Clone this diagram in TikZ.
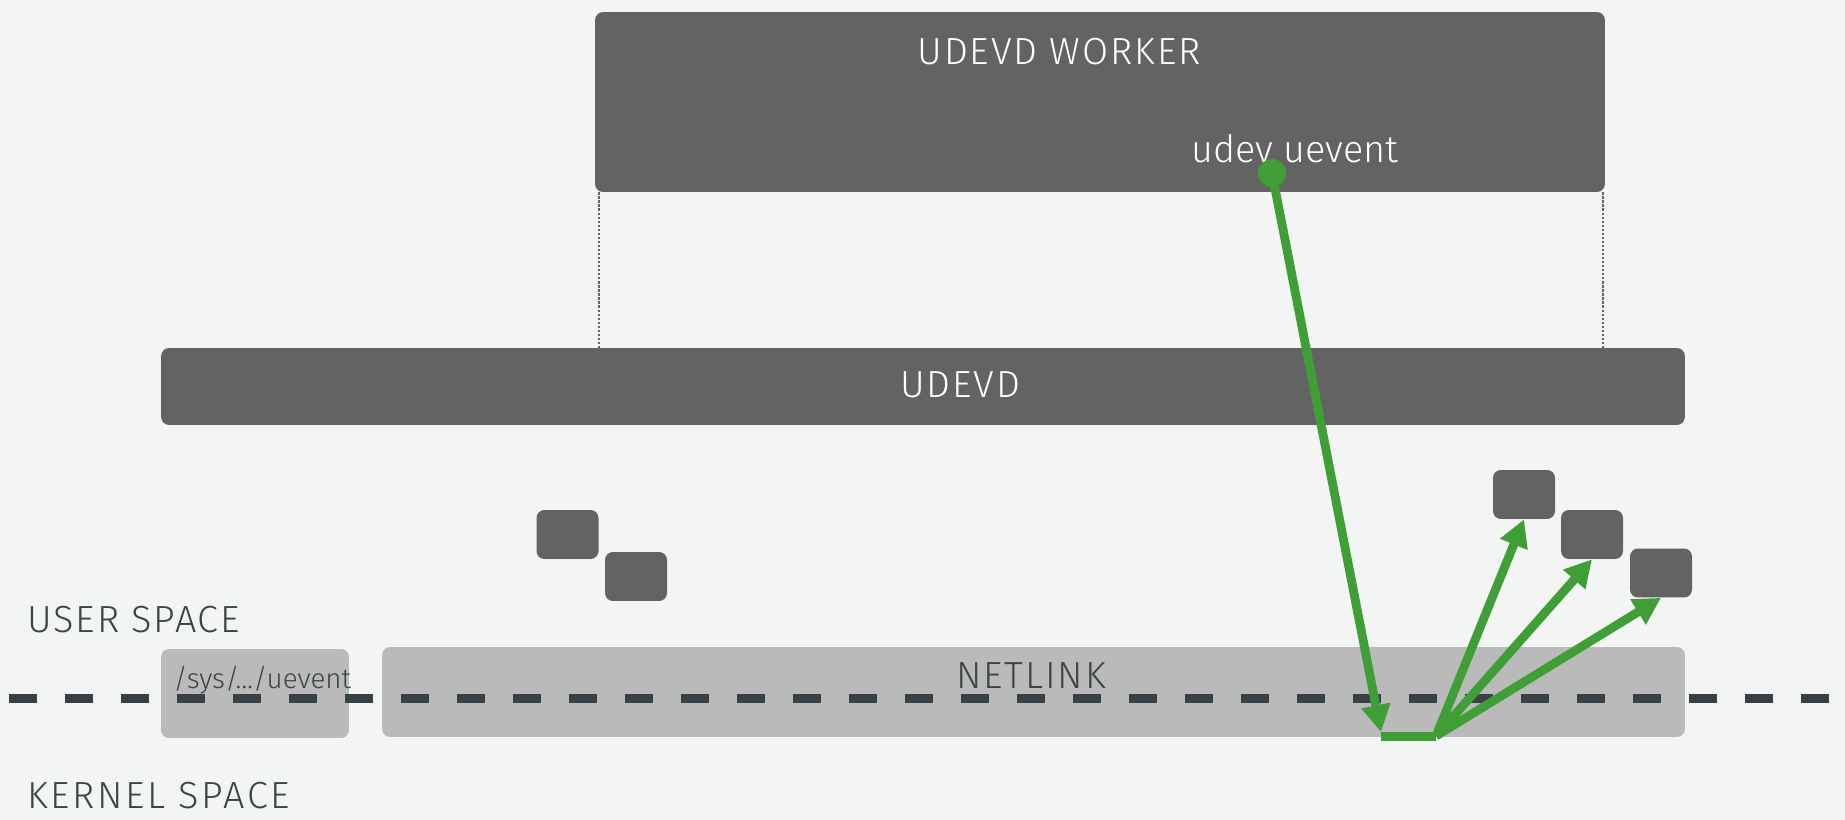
\documentclass[tikz,border=0pt]{standalone}
\usepackage{fontspec}
\setmainfont{Fira Sans Light}[LetterSpace=5]
\newfontfamily\plainfont{Fira Sans Light}
\usetikzlibrary{arrows.meta}
\usetikzlibrary{positioning}
\definecolor{bgcol}{HTML}{F3F4F4}
\definecolor{boxdark}{HTML}{636363}
\definecolor{boxlight}{HTML}{B9BAB9}
\definecolor{flowgreen}{HTML}{409E37}
\definecolor{ink}{HTML}{3B4446}
\definecolor{dashink}{HTML}{384145}
\tikzstyle{darkbox} = [rectangle, rounded corners=4.5pt, fill=boxdark, inner sep=0pt]
\tikzstyle{lightbox} = [rectangle, rounded corners=4.5pt, fill=boxlight, inner sep=0pt]
\tikzstyle{smallbox} = [darkbox, minimum width=1.24cm, minimum height=0.98cm]
\tikzstyle{boxtitle} = [text=white, font=\fontsize{21.5}{24}\selectfont, inner sep=0pt, anchor=base]
\tikzstyle{spacelabel} = [text=ink, font=\fontsize{21.5}{24}\selectfont, inner sep=0pt, anchor=base west]
\tikzstyle{flow} = [draw=flowgreen, line width=5pt, -{Triangle[length=0.54cm, width=0.56cm]}]
\tikzstyle{tie} = [draw=boxdark, line width=1.3pt, densely dotted]

\begin{document}
\begin{tikzpicture}[x=0.02cm, y=-0.02cm]

 \fill[bgcol] (0,0) rectangle (1845,820);
 \useasboundingbox (0,0) rectangle (1845,820);

 \node (worker) [darkbox, minimum width=20.2cm, minimum height=3.6cm] at (1100,102) {};
 \node (udevd) [darkbox, minimum width=30.48cm, minimum height=1.54cm] at (923,386.5) {};
 \node (netlink) [lightbox, minimum width=26.06cm, minimum height=1.8cm] at (1033.5,692) {};
 \node (sysfs) [lightbox, minimum width=3.76cm, minimum height=1.78cm] at (255,693.5) {};

 \node (inA) [smallbox] at (567.5,534.5) {};
 \node (inB) [smallbox] at (636,576.5) {};
 \node (outA) [smallbox] at (1524,494.5) {};
 \node (outB) [smallbox] at (1592,534.5) {};
 \node (outC) [smallbox] at (1661,573) {};

 \draw[tie] ([xshift=0.08cm]worker.south west) -- ([xshift=0.08cm]worker.south west |- udevd.north);
 \draw[tie] ([xshift=-0.04cm]worker.south east) -- ([xshift=-0.04cm]worker.south east |- udevd.north);

 \node (workerlabel) [boxtitle] at (1059,65) {UDEVD WORKER};
 \node (udevdlabel) [boxtitle] at (960,398) {UDEVD};
 \node (ueventlabel) [boxtitle, anchor=base west, font=\plainfont\fontsize{21.5}{24}\selectfont] at (1191,163) {udev uevent};
 \node (netlinklabel) [boxtitle, text=ink] at (1031,688) {NETLINK};
 \node (syslabel) [spacelabel, font=\plainfont\fontsize{15.8}{18}\selectfont] at (173,688) {/sys/…/uevent};
 \node (userlabel) [spacelabel] at (27,632) {USER SPACE};
 \node (kernellabel) [spacelabel, font=\addfontfeatures{LetterSpace=7}\fontsize{21.5}{24}\selectfont] at (27,808) {KERNEL SPACE};

 \coordinate (lineL) at (9,698);
 \coordinate (lineR) at (1845,698);
 \draw[dashink, line width=0.18cm, dash pattern=on 0.56cm off 0.56cm] (lineL) -- (lineR);

 \coordinate (turn) at (1381,736);
 \coordinate (fork) at (1436,736);
 \draw[flow] (1272,173) -- ([yshift=0.08cm]turn);
 \node (dot) [circle, fill=flowgreen, minimum size=0.56cm, inner sep=0pt] at (1272,173) {};
 \draw[flowgreen, line width=0.18cm] (turn) -- (fork);
 \draw[flow] (fork) -- (outA.south);
 \draw[flow] (fork) -- (outB.south);
 \draw[flow] (fork) -- (outC.south);
\end{tikzpicture}
\end{document}
